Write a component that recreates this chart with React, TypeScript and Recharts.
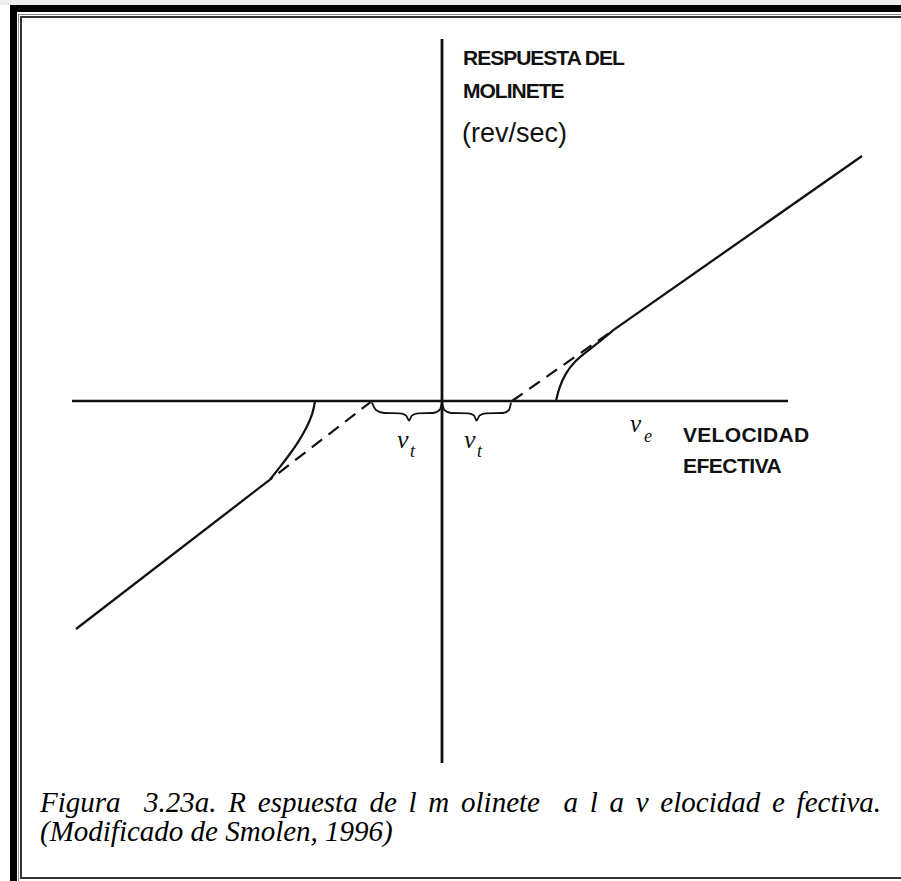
import { Line, LineChart, ReferenceLine, XAxis, YAxis } from 'recharts'

type Pt = { v: number; n: number }

// velocity (v) and current-meter response (n), schematic units
const vDomain: [number, number] = [-22.1, 22.95]
const nDomain: [number, number] = [-24, 20.05]
const vAxisEnds = [-18.5, 17.3]
const nAxisEnds = [-18.1, 18.1]

const vt = 3.5

const rightLine: Pt[] = [{ v: 8.6, n: 3.57 }, { v: 21, n: 12.25 }]
const rightDashed: Pt[] = [{ v: vt, n: 0 }, { v: 8.6, n: 3.57 }]
const rightCurve: Pt[] = [
  { v: 5.7, n: 0 },
  { v: 5.85, n: 0.65 },
  { v: 6.15, n: 1.35 },
  { v: 6.6, n: 1.95 },
  { v: 7.15, n: 2.4 },
  { v: 7.85, n: 2.95 },
  { v: 8.6, n: 3.57 },
]

const leftLine: Pt[] = [{ v: -8.6, n: -3.93 }, { v: -18.3, n: -11.4 }]
const leftDashed: Pt[] = [{ v: -vt, n: 0 }, { v: -8.6, n: -3.93 }]
const leftCurve: Pt[] = [
  { v: -6.35, n: 0 },
  { v: -6.45, n: -0.6 },
  { v: -6.75, n: -1.3 },
  { v: -7.15, n: -2.0 },
  { v: -7.6, n: -2.65 },
  { v: -8.1, n: -3.3 },
  { v: -8.6, n: -3.93 },
]

const leftBrace: Pt[] = [
  { v: -3.5, n: -0.08 },
  { v: -3.3, n: -0.45 },
  { v: -2.9, n: -0.6 },
  { v: -2.1, n: -0.62 },
  { v: -1.8, n: -0.72 },
  { v: -1.65, n: -0.98 },
  { v: -1.5, n: -0.72 },
  { v: -1.2, n: -0.62 },
  { v: -0.45, n: -0.6 },
  { v: -0.12, n: -0.45 },
  { v: 0, n: -0.08 },
]
const rightBrace: Pt[] = [
  { v: 0, n: -0.08 },
  { v: 0.12, n: -0.45 },
  { v: 0.45, n: -0.6 },
  { v: 1.3, n: -0.62 },
  { v: 1.6, n: -0.72 },
  { v: 1.73, n: -0.98 },
  { v: 1.88, n: -0.72 },
  { v: 2.2, n: -0.62 },
  { v: 3.05, n: -0.6 },
  { v: 3.35, n: -0.45 },
  { v: 3.45, n: -0.08 },
]

const yTitle = ['RESPUESTA DEL', 'MOLINETE']
const yUnit = '(rev/sec)'
const xTitle = ['VELOCIDAD', 'EFECTIVA']
const captionLines = [
  'Figura  3.23a. R espuesta de l m olinete  a l a v elocidad e fectiva.',
  '(Modificado de Smolen, 1996)',
]

const W = 901
const H = 881
const ink = '#111'
const labelFont = "'Liberation Sans', Arial, sans-serif"
const serif = "'Liberation Serif', 'Times New Roman', serif"

function Frame() {
  const box = (s: React.CSSProperties) => <div style={{ position: 'absolute', ...s }} />
  return (
    <>
      {box({ left: 0, top: 0, width: W, height: 5, background: '#eee' })}
      {box({ left: 10, top: 5, width: W - 10, height: 7, background: '#000' })}
      {box({ left: 10, top: 5, width: 7, height: H - 5, background: '#000' })}
      {box({ left: 18, top: 14, width: W - 18, height: 1, background: '#888' })}
      {box({ left: 18, top: 14, width: 1, height: H - 14, background: '#888' })}
      {box({ left: 20, top: 16, width: W - 20, height: 2, background: '#333' })}
      {box({ left: 20, top: 16, width: 2, height: 862, background: '#333' })}
      {box({ left: 20, top: 877, width: W - 20, height: 2, background: '#333' })}
    </>
  )
}

export default function App() {
  return (
    <div style={{ position: 'absolute', left: 0, top: 0, width: W, height: H, background: '#fff' }}>
      <LineChart width={W} height={H} margin={{ top: 0, right: 0, bottom: 0, left: 0 }}>
        <XAxis type="number" dataKey="v" domain={vDomain} allowDataOverflow hide />
        <YAxis type="number" dataKey="n" domain={nDomain} allowDataOverflow hide />
        <ReferenceLine
          segment={[{ x: vAxisEnds[0], y: 0 }, { x: vAxisEnds[1], y: 0 }]}
          stroke={ink}
          strokeWidth={2.6}
        />
        <ReferenceLine
          segment={[{ x: 0, y: nAxisEnds[0] }, { x: 0, y: nAxisEnds[1] }]}
          stroke={ink}
          strokeWidth={2.8}
        />
        <Line data={rightLine} dataKey="n" type="linear" stroke={ink} strokeWidth={2.3} dot={false} isAnimationActive={false} />
        <Line data={rightCurve} dataKey="n" type="basis" stroke={ink} strokeWidth={2.2} dot={false} isAnimationActive={false} />
        <Line data={rightDashed} dataKey="n" type="linear" stroke={ink} strokeWidth={2.2} strokeDasharray="13 8" dot={false} isAnimationActive={false} />
        <Line data={leftLine} dataKey="n" type="linear" stroke={ink} strokeWidth={2.3} dot={false} isAnimationActive={false} />
        <Line data={leftCurve} dataKey="n" type="basis" stroke={ink} strokeWidth={2.2} dot={false} isAnimationActive={false} />
        <Line data={leftDashed} dataKey="n" type="linear" stroke={ink} strokeWidth={2.2} strokeDasharray="13 8" dot={false} isAnimationActive={false} />
        <Line data={leftBrace} dataKey="n" type="monotone" stroke={ink} strokeWidth={1.8} dot={false} isAnimationActive={false} />
        <Line data={rightBrace} dataKey="n" type="monotone" stroke={ink} strokeWidth={1.8} dot={false} isAnimationActive={false} />
      </LineChart>

      <svg width={W} height={H} style={{ position: 'absolute', left: 0, top: 0, pointerEvents: 'none' }}>
        <g fill={ink} fontFamily={labelFont} fontWeight="bold" fontSize={21} letterSpacing={-1}>
          <text x={463} y={65}>{yTitle[0]}</text>
          <text x={463} y={98}>{yTitle[1]}</text>
        </g>
        <g fill={ink} fontFamily={labelFont} fontWeight="bold" fontSize={21}>
          <text x={683} y={442} letterSpacing={0.3}>{xTitle[0]}</text>
          <text x={683} y={473} letterSpacing={-0.5}>{xTitle[1]}</text>
        </g>
        <text x={462} y={142} fill={ink} fontFamily={labelFont} fontSize={27}>
          {yUnit}
        </text>
        <g fill={ink} fontFamily={serif} fontStyle="italic">
          <text x={397} y={448} fontSize={26}>v</text>
          <text x={410} y={457} fontSize={18}>t</text>
          <text x={464} y={448} fontSize={26}>v</text>
          <text x={477} y={457} fontSize={18}>t</text>
          <text x={630} y={432} fontSize={25}>v</text>
          <text x={644} y={442} fontSize={18}>e</text>
        </g>
        <g fill="#000" fontFamily={serif} fontStyle="italic" fontSize={29}>
          <text x={40} y={812} xmlSpace="preserve" wordSpacing={4.5} style={{ whiteSpace: 'pre' }}>
            {captionLines[0]}
          </text>
          <text x={40} y={841} xmlSpace="preserve" style={{ whiteSpace: 'pre' }}>
            {captionLines[1]}
          </text>
        </g>
      </svg>

      <Frame />
    </div>
  )
}
